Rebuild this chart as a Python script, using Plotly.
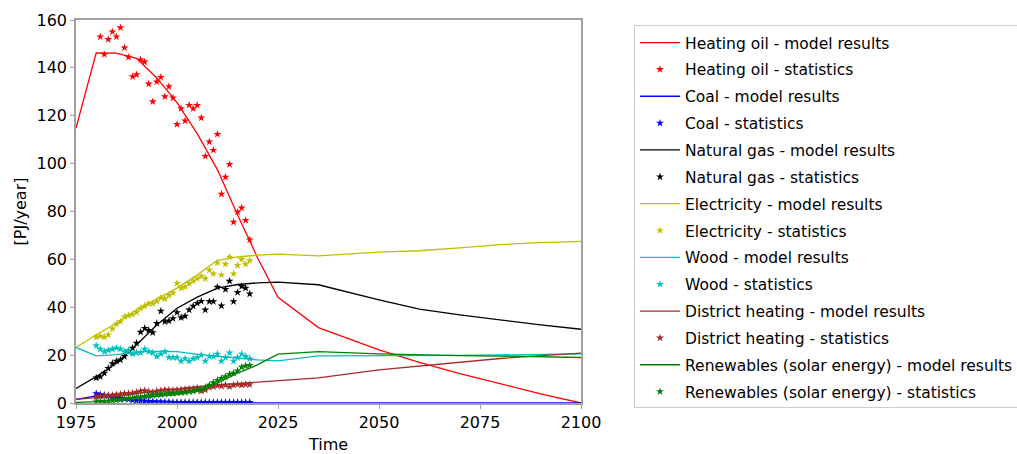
import plotly.graph_objects as go

# Model time steps
model_years = [1975, 1980, 1985, 1990, 1995, 2000, 2005, 2010, 2015, 2020,
               2025, 2035, 2050, 2060, 2070, 2080, 2090, 2100]

# Model results [PJ/year]
oil_model = [114.9, 146.3, 146.2, 144.0, 135.8, 125.5, 112.5, 97.5, 78.5, 60.5,
             44.2, 31.5, 22.2, 17.0, 12.3, 7.9, 3.8, 0.0]
coal_model = [1.5, 3.0, 2.2, 1.2, 0.7, 0.4, 0.2, 0.1, 0.05, 0.0,
              0.0, 0.0, 0.0, 0.0, 0.0, 0.0, 0.0, 0.0]
gas_model = [6.1, 11.0, 16.6, 24.3, 32.6, 39.6, 44.2, 48.0, 49.5, 50.2,
             50.5, 49.4, 43.1, 39.2, 36.8, 34.6, 32.6, 30.8]
elec_model = [23.2, 28.5, 33.3, 38.9, 43.4, 48.0, 53.6, 59.6, 61.0, 61.8,
              62.2, 61.5, 63.0, 63.6, 64.8, 66.2, 67.0, 67.5]
wood_model = [23.2, 19.7, 20.2, 21.3, 21.6, 21.5, 20.3, 19.4, 18.8, 18.0,
              17.6, 19.7, 19.7, 19.8, 19.9, 20.1, 20.3, 20.5]
dh_model = [1.5, 2.2, 3.0, 4.0, 5.0, 6.0, 6.8, 7.6, 8.2, 8.7,
            9.3, 10.5, 13.8, 15.5, 17.2, 18.6, 19.8, 20.8]
ren_model = [0.3, 0.6, 1.3, 2.1, 2.9, 3.6, 5.2, 8.3, 12.5, 16.0,
             20.4, 21.5, 20.5, 20.0, 19.8, 19.6, 19.3, 19.0]

# Statistics [PJ/year]
stat_years = list(range(1980, 2019))
oil_years = list(range(1981, 2019))
oil_stat = [153.0, 145.6, 151.9, 155.1, 153.0, 156.8, 148.4, 144.5, 136.4,
            137.2, 143.4, 142.5, 133.3, 125.9, 134.2, 136.1, 128.0, 132.2, 127.5,
            116.4, 123.0, 117.9, 124.4, 123.0, 124.4, 119.1, 103.1, 109.1, 105.6,
            112.3, 87.3, 94.4, 99.7, 75.6, 79.8, 81.5, 76.3, 68.2]
coal_stat = [4.0, 3.5, 3.3, 3.0, 2.7, 2.4, 2.1, 1.8, 1.5, 1.2,
             1.0, 0.9, 0.8, 0.7, 0.6, 0.5, 0.5, 0.4, 0.4, 0.3,
             0.3, 0.3, 0.3, 0.3, 0.3, 0.3, 0.3, 0.3, 0.3, 0.3,
             0.3, 0.3, 0.3, 0.3, 0.3, 0.3, 0.3, 0.3, 0.3]
gas_stat = [10.5, 11.0, 12.5, 14.5, 16.5, 17.5, 18.0, 19.5, 21.5, 23.0,
            25.0, 29.6, 31.2, 30.4, 29.4, 33.3, 38.4, 34.0, 34.3, 35.3,
            37.8, 35.7, 36.3, 38.9, 40.5, 41.7, 42.5, 38.9, 42.4, 42.4,
            48.4, 40.6, 47.5, 50.9, 42.4, 46.2, 48.7, 48.0, 45.6]
elec_stat = [27.5, 28.0, 27.5, 28.5, 31.0, 33.0, 34.0, 36.0, 36.5, 37.0,
             38.0, 39.5, 40.5, 41.5, 41.5, 42.5, 44.0, 43.5, 45.0, 46.0,
             50.0, 48.0, 48.5, 50.0, 51.0, 52.0, 53.0, 52.0, 55.5, 54.0,
             58.5, 53.5, 58.0, 61.0, 54.0, 57.5, 60.0, 58.0, 59.5]
wood_stat = [24.0, 22.5, 21.5, 22.0, 22.5, 23.0, 22.5, 21.5, 22.0, 20.5,
             21.0, 21.0, 22.5, 21.5, 21.0, 19.5, 20.5, 21.5, 19.0, 19.0,
             19.0, 17.5, 18.5, 17.5, 18.5, 19.0, 20.0, 17.5, 19.5, 19.5,
             20.5, 17.5, 19.0, 21.0, 17.5, 19.0, 20.5, 19.5, 18.5]
dh_stat = [2.5, 2.8, 3.0, 3.2, 3.3, 3.5, 3.7, 4.0, 4.0, 4.2,
           4.5, 5.0, 5.2, 4.8, 4.5, 5.0, 5.2, 5.5, 5.5, 5.3,
           5.5, 5.7, 5.8, 6.0, 6.0, 6.3, 5.0, 5.5, 6.5, 6.8,
           7.3, 7.0, 7.5, 6.8, 7.5, 7.8, 7.5, 7.8, 7.7]
ren_stat = [0.5, 0.6, 0.7, 0.8, 1.0, 1.2, 1.4, 1.6, 1.9, 2.1,
            2.4, 2.6, 2.8, 3.0, 3.2, 3.4, 3.5, 3.7, 3.9, 4.0,
            4.1, 4.3, 4.5, 4.7, 5.0, 5.4, 5.9, 6.5, 7.5, 8.5,
            9.5, 10.3, 11.0, 12.0, 12.5, 13.5, 15.0, 15.5, 15.8]

carriers = [
    ("Heating oil", "#ff0000", oil_model, oil_years, oil_stat),
    ("Coal", "#0000ff", coal_model, stat_years, coal_stat),
    ("Natural gas", "#000000", gas_model, stat_years, gas_stat),
    ("Electricity", "#bfbf00", elec_model, stat_years, elec_stat),
    ("Wood", "#00bfbf", wood_model, stat_years, wood_stat),
    ("District heating", "#a52a2a", dh_model, stat_years, dh_stat),
    ("Renewables (solar energy)", "#008000", ren_model, stat_years, ren_stat),
]

fig = go.Figure()
for i, (name, color, model, syears, stat) in enumerate(carriers):
    # each legend entry in its own group so tracegroupgap spaces the rows
    fig.add_trace(go.Scatter(
        x=model_years, y=model, mode="lines",
        line=dict(color=color, width=1.3),
        legendgroup=f"m{i}",
        name=f"{name} - model results"))
    fig.add_trace(go.Scatter(
        x=syears, y=stat, mode="markers",
        marker=dict(symbol="star", color=color, size=6, line=dict(width=0)),
        legendgroup=f"s{i}",
        name=f"{name} - statistics"))

axis_font = dict(family="DejaVu Sans", size=16, color="#000000")
fig.update_layout(
    width=1017, height=454,
    margin=dict(l=76, r=436, t=20, b=51, autoexpand=False),
    paper_bgcolor="white", plot_bgcolor="white",
    font=axis_font,
    showlegend=True,
    legend=dict(
        x=1.105, y=0.987, xanchor="left", yanchor="top",
        bordercolor="#cccccc", borderwidth=1,
        font=dict(family="DejaVu Sans", size=15.5, color="#000000"),
        tracegroupgap=3.7, itemwidth=40,
    ),
    xaxis=dict(
        range=[1975, 2100], tickvals=[1975, 2000, 2025, 2050, 2075, 2100],
        showgrid=False, zeroline=False, showline=True, mirror=True,
        linecolor="#a0a0a0", linewidth=1.5, ticks="outside", ticklen=4,
        tickcolor="#a0a0a0", tickfont=axis_font, automargin=False,
        title=dict(text="Time", font=axis_font, standoff=8),
    ),
    yaxis=dict(
        range=[0, 160], tickvals=[0, 20, 40, 60, 80, 100, 120, 140, 160],
        showgrid=False, zeroline=False, showline=True, mirror=True,
        linecolor="#a0a0a0", linewidth=1.5, ticks="outside", ticklen=4,
        tickcolor="#a0a0a0", tickfont=axis_font, automargin=False,
        title=dict(text="[PJ/year]", font=axis_font, standoff=6),
    ),
)

fig.write_html("out.html")
